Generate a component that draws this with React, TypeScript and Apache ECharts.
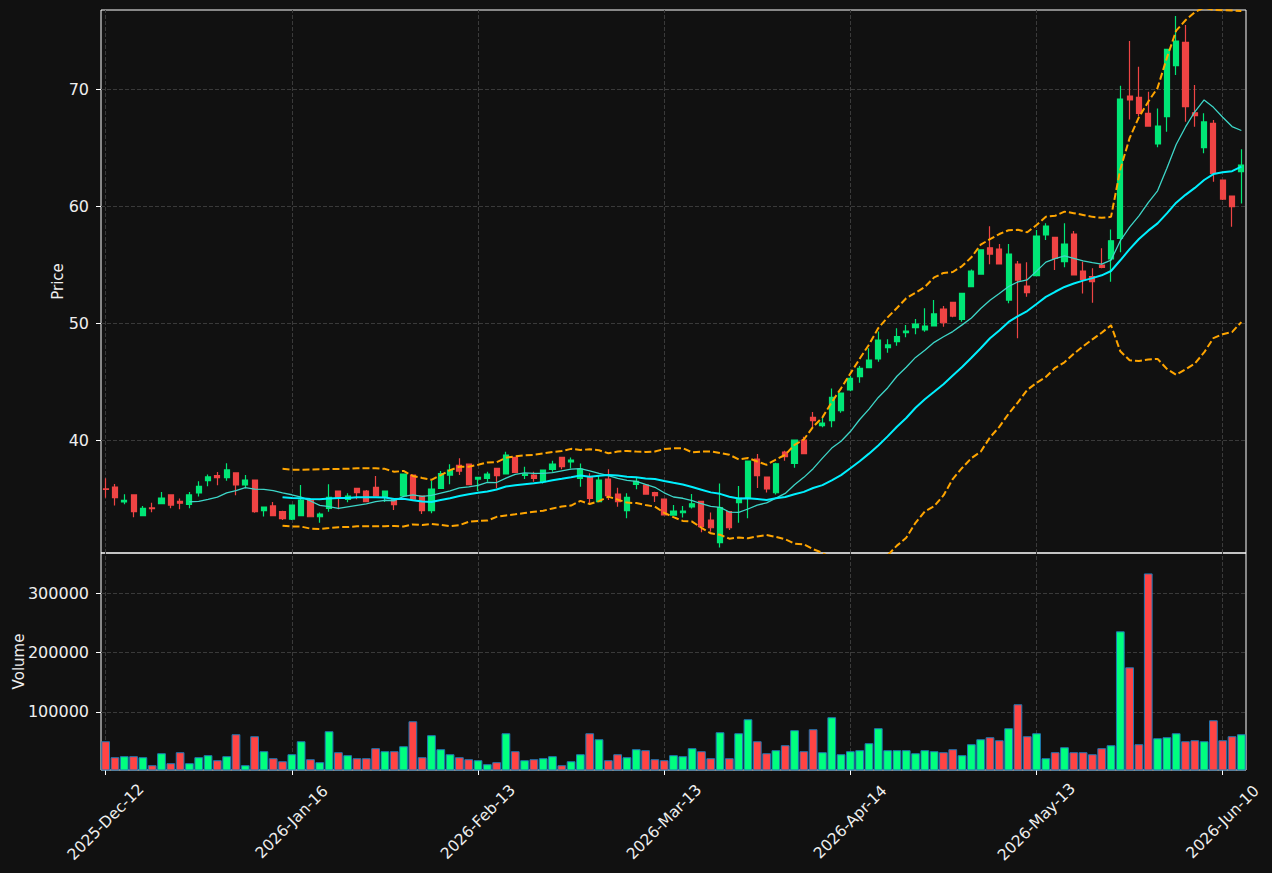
import React, { useEffect, useRef } from "react";
import * as echarts from "echarts";

// ---- data ----
const tickLabels = ["2025-Dec-12", "2026-Jan-16", "2026-Feb-13", "2026-Mar-13", "2026-Apr-14", "2026-May-13", "2026-Jun-10"];
const tickStep = 20;

const opens = [
  35.85, 36.01, 34.73, 35.33, 33.56, 34.22, 34.59, 35.33, 34.79, 34.53,
  35.5, 36.55, 36.98, 36.81, 37.21, 36.18, 36.61, 33.99, 34.39, 33.9,
  33.27, 33.56, 34.9, 33.47, 34.19, 35.67, 34.96, 35.9, 35.67, 35.98,
  35.18, 34.96, 35.24, 37.03, 35.24, 33.99, 35.9, 37.03, 37.86, 37.97,
  36.69, 36.75, 37.6, 37.12, 38.54, 37.0, 37.03, 36.46, 37.52, 38.54,
  38.15, 36.75, 36.89, 34.76, 36.69, 35.41, 33.99, 36.24, 36.18, 35.53,
  34.98, 33.61, 33.81, 34.3, 34.78, 33.19, 31.25, 33.9, 34.67, 35.1,
  38.4, 36.86, 35.52, 39.0, 38.03, 40.03, 41.96, 41.25, 41.68, 42.53,
  44.3, 45.44, 46.21, 46.95, 47.92, 48.43, 49.2, 49.63, 49.43, 49.77,
  51.22, 51.79, 50.34, 53.13, 54.21, 56.46, 56.35, 51.99, 55.07, 53.19,
  54.07, 57.55, 57.35, 55.27, 57.63, 54.47, 53.99, 54.98, 55.5, 57.26,
  69.43, 69.31, 67.95, 65.33, 67.66, 72.02, 74.01, 68.0, 65.01, 67.09,
  62.25, 60.88, 62.96,
];
const closes = [
  35.8, 35.1, 34.87, 33.9, 34.19, 34.16, 35.07, 34.47, 34.62, 35.33,
  36.07, 36.87, 36.81, 37.47, 36.18, 36.61, 33.9, 34.3, 33.56, 33.31,
  34.47, 34.9, 33.47, 33.7, 35.13, 35.13, 35.24, 35.53, 34.76, 35.24,
  35.67, 34.5, 37.12, 34.98, 33.99, 35.84, 37.15, 37.46, 37.37, 36.21,
  36.83, 37.12, 36.98, 38.74, 37.26, 37.12, 36.75, 37.46, 37.97, 37.75,
  38.32, 37.55, 35.04, 36.61, 35.27, 34.76, 35.13, 36.49, 35.41, 35.27,
  33.62, 33.96, 33.96, 34.58, 32.62, 32.53, 34.24, 32.53, 35.04, 38.23,
  36.98, 35.84, 38.0, 38.6, 40.03, 38.86, 41.68, 41.48, 43.67, 44.04,
  45.3, 46.15, 46.86, 48.57, 48.15, 48.86, 49.34, 49.94, 49.77, 50.8,
  50.05, 50.62, 52.56, 54.47, 56.27, 55.92, 55.07, 55.92, 53.7, 52.62,
  57.46, 58.32, 55.55, 56.78, 54.13, 53.76, 53.56, 54.79, 57.06, 69.17,
  69.09, 67.95, 66.86, 66.86, 73.42, 74.13, 68.52, 67.75, 67.21, 62.82,
  60.62, 59.97, 63.53,
];
const lows = [
  35.1, 34.42, 34.53, 33.42, 33.56, 33.85, 34.59, 34.19, 34.1, 34.19,
  35.19, 36.07, 36.16, 36.55, 35.3, 35.9, 33.82, 33.48, 33.56, 33.2,
  33.2, 33.56, 33.47, 32.96, 33.9, 34.1, 34.7, 34.96, 34.76, 35.24,
  34.73, 34.04, 35.24, 34.98, 33.7, 33.76, 35.84, 36.24, 37.03, 36.21,
  35.67, 36.46, 35.9, 37.12, 37.26, 36.69, 36.46, 36.32, 37.32, 37.52,
  37.6, 36.04, 34.61, 34.76, 34.9, 34.33, 33.33, 35.81, 35.41, 34.73,
  33.62, 33.61, 33.4, 34.18, 32.14, 32.19, 30.85, 32.33, 32.96, 33.33,
  35.92, 35.55, 35.38, 38.26, 37.66, 38.86, 41.11, 41.11, 41.11, 42.36,
  44.2, 44.93, 46.21, 46.72, 47.49, 48.09, 48.8, 49.06, 49.28, 49.77,
  49.71, 50.51, 50.14, 53.13, 54.21, 55.04, 55.07, 51.71, 48.72, 52.28,
  54.07, 57.12, 54.56, 54.79, 54.13, 52.56, 51.76, 54.7, 53.56, 56.07,
  67.43, 67.72, 66.86, 65.04, 66.38, 71.22, 67.23, 66.81, 64.53, 62.11,
  60.54, 58.26, 60.25,
];
const highs = [
  36.75, 36.27, 35.39, 35.33, 34.39, 34.67, 35.59, 35.33, 35.02, 35.59,
  36.5, 37.07, 37.3, 38.04, 37.21, 37.04, 36.61, 34.3, 34.73, 33.99,
  34.5, 36.18, 34.9, 33.84, 36.24, 35.67, 35.47, 35.9, 35.75, 36.95,
  35.67, 34.96, 37.12, 37.03, 35.24, 36.55, 37.37, 37.95, 38.46, 37.97,
  36.83, 37.32, 37.6, 39.03, 38.54, 37.75, 37.32, 37.46, 38.26, 38.54,
  38.54, 38.03, 37.18, 37.03, 37.52, 35.95, 35.47, 36.81, 36.18, 35.61,
  34.98, 34.47, 34.38, 35.41, 34.78, 33.84, 36.32, 33.9, 36.09, 38.23,
  38.83, 36.86, 38.09, 39.1, 40.03, 40.31, 42.42, 41.93, 44.44, 44.04,
  45.5, 46.35, 47.86, 49.3, 48.63, 49.57, 49.85, 50.37, 51.28, 51.99,
  51.48, 51.85, 52.56, 54.61, 56.27, 58.3, 56.78, 56.78, 55.33, 55.21,
  57.97, 58.55, 57.4, 58.55, 57.89, 55.27, 54.7, 56.41, 58.03, 70.31,
  74.13, 71.93, 69.8, 68.37, 73.42, 76.27, 75.5, 70.37, 67.95, 67.38,
  62.25, 60.88, 64.87,
];
const volumes = [
  50500, 23600, 25300, 25300, 23600, 10100, 30300, 13500, 32000, 13500,
  23600, 27000, 18500, 25300, 62300, 10100, 59000, 33700, 21900, 16800,
  28600, 50500, 20200, 15200, 67400, 32000, 27000, 21900, 21900, 38800,
  33700, 33700, 42100, 84200, 23600, 60700, 37100, 28600, 23600, 20200,
  18500, 11800, 15200, 64000, 33700, 18500, 20200, 21900, 25300, 10100,
  16800, 28600, 64000, 53900, 18500, 28600, 23600, 37100, 35400, 20200,
  18500, 27000, 25300, 38800, 33700, 21900, 65700, 21900, 64000, 87600,
  50500, 30300, 35400, 43800, 69100, 33700, 70800, 32000, 91000, 28600,
  33700, 35400, 47200, 72500, 35400, 35400, 35400, 30300, 35400, 33700,
  32000, 37100, 27000, 45500, 53900, 57300, 52200, 72500, 112900, 59000,
  64000, 21900, 32000, 40400, 32000, 32000, 28600, 38800, 43800, 235900,
  175200, 45500, 333600, 55600, 57300, 64000, 50500, 52200, 50500, 85900,
  52200, 59000, 62300,
];
const priceTicks = [40, 50, 60, 70];
const volumeTicks = [100000, 200000, 300000];

// ---- indicators derived from the closes ----
function sma(arr: number[], n: number): (number | null)[] {
  return arr.map((_, i) => {
    if (i < n - 1) return null;
    let s = 0;
    for (let k = i - n + 1; k <= i; k++) s += arr[k];
    return s / n;
  });
}
function bands(arr: number[], n: number, mult: number) {
  const mid = sma(arr, n);
  const up: (number | null)[] = [];
  const lo: (number | null)[] = [];
  arr.forEach((_, i) => {
    const m = mid[i];
    if (m === null) { up.push(null); lo.push(null); return; }
    let ss = 0;
    for (let k = i - n + 1; k <= i; k++) ss += (arr[k] - m) * (arr[k] - m);
    const sd = Math.sqrt(ss / (n - 1));
    up.push(m + mult * sd);
    lo.push(m - mult * sd);
  });
  return { up, lo };
}

const TXT = "#eeeeee";
const FONT = "DejaVu Sans";
const GRIDC = "#3a3a3a";

export default function App() {
  const ref = useRef<HTMLDivElement>(null);
  useEffect(() => {
    document.body.style.margin = "0";
    document.body.style.background = "#111111";
    if (!ref.current) return;
    const chart = echarts.init(ref.current, undefined, { renderer: "svg" });
    const n = closes.length;
    const cats = Array.from({ length: n }, (_, i) => String(i));
    const ma10 = sma(closes, 10);
    const ma20 = sma(closes, 20);
    const bb = bands(closes, 20, 2);
    const isTick = (i: number) => i % tickStep === 0;
    const vLines = cats.filter((_, i) => isTick(i)).map((c) => ({ xAxis: c }));
    const markGrid = {
      silent: true,
      symbol: ["none", "none"],
      z: 1,
      label: { show: false },
      lineStyle: { type: [4, 2], color: GRIDC, width: 1 },
      data: vLines,
      animation: false,
    };
    const candleData = opens.map((o, i) => [o, closes[i], lows[i], highs[i]]);
    const volData = volumes.map((v, i) => ({
      value: v,
      itemStyle: { color: closes[i] >= opens[i] ? "#00ff7f" : "#ff4444" },
    }));
    const yLabel = { color: TXT, fontSize: 16, fontFamily: FONT, margin: 12 };
    const gridBase = {
      left: 101, width: 1145, show: true, borderColor: "#ffffff", borderWidth: 1,
      backgroundColor: "transparent", containLabel: false, outerBoundsMode: "none",
    };
    chart.setOption({
      animation: false,
      backgroundColor: "#111111",
      grid: [
        { ...gridBase, top: 10, height: 543 },
        { ...gridBase, top: 553, height: 217 },
      ],
      xAxis: [
        {
          type: "category", gridIndex: 0, data: cats, boundaryGap: true,
          axisLine: { show: false }, axisTick: { show: false }, axisLabel: { show: false }, splitLine: { show: false },
        },
        {
          type: "category", gridIndex: 1, data: cats, boundaryGap: true,
          axisLine: { show: false },
          axisTick: { show: true, alignWithLabel: true, interval: (i: number) => isTick(i), length: 5, lineStyle: { color: "#ffffff" } },
          axisLabel: {
            interval: (i: number) => isTick(i),
            formatter: (_v: string, i: number) => (isTick(i) ? tickLabels[i / tickStep] : ""),
            rotate: 45, align: "center", verticalAlign: "middle", margin: 52,
            color: TXT, fontSize: 15.5, fontFamily: FONT,
          },
          splitLine: { show: false },
        },
      ],
      yAxis: [
        {
          type: "value", gridIndex: 0, min: 30.37, max: 76.78, scale: true,
          name: "Price", nameLocation: "middle", nameGap: 36, nameMoveOverlap: false,
          nameTextStyle: { color: TXT, fontSize: 15, fontFamily: FONT },
          axisLine: { show: false },
          axisTick: { show: true, length: 5, lineStyle: { color: "#ffffff" }, customValues: priceTicks },
          axisLabel: { ...yLabel, customValues: priceTicks, formatter: (v: number) => String(Math.round(v)) },
          splitLine: { show: true, lineStyle: { type: [4, 2], color: GRIDC, width: 1 } },
        },
        {
          type: "value", gridIndex: 1, min: 2000, max: 368000,
          name: "Volume", nameLocation: "middle", nameGap: 75, nameMoveOverlap: false,
          nameTextStyle: { color: TXT, fontSize: 15, fontFamily: FONT },
          axisLine: { show: false },
          axisTick: { show: true, length: 5, lineStyle: { color: "#ffffff" }, customValues: volumeTicks },
          axisLabel: { ...yLabel, customValues: volumeTicks, formatter: (v: number) => String(Math.round(v)) },
          splitLine: { show: true, lineStyle: { type: [4, 2], color: GRIDC, width: 1 } },
        },
      ],
      series: [
        {
          type: "candlestick", xAxisIndex: 0, yAxisIndex: 0, data: candleData, barWidth: 5.6,
          itemStyle: { color: "#00e676", color0: "#ef4444", borderColor: "#00e676", borderColor0: "#ef4444", borderWidth: 1.2 },
          markLine: markGrid,
        },
        {
          type: "line", xAxisIndex: 0, yAxisIndex: 0, data: ma10, showSymbol: false, symbol: "none",
          lineStyle: { color: "#3dd6c8", width: 1.3 }, z: 3,
        },
        {
          type: "line", xAxisIndex: 0, yAxisIndex: 0, data: ma20, showSymbol: false, symbol: "none",
          lineStyle: { color: "#00f0ff", width: 2 }, z: 3,
        },
        {
          type: "line", xAxisIndex: 0, yAxisIndex: 0, data: bb.up, showSymbol: false, symbol: "none",
          lineStyle: { color: "#ffa500", width: 2, type: [7, 3] }, z: 3,
        },
        {
          type: "line", xAxisIndex: 0, yAxisIndex: 0, data: bb.lo, showSymbol: false, symbol: "none", clip: true,
          lineStyle: { color: "#ffa500", width: 2, type: [7, 3] }, z: 3,
        },
        {
          type: "bar", xAxisIndex: 1, yAxisIndex: 1, data: volData, barWidth: "94%",
          itemStyle: { borderColor: "#1f77b4", borderWidth: 1 },
          markLine: markGrid,
        },
      ],
    });
    return () => chart.dispose();
  }, []);
  return <div ref={ref} style={{ width: 1272, height: 873, background: "#111111" }} />;
}
